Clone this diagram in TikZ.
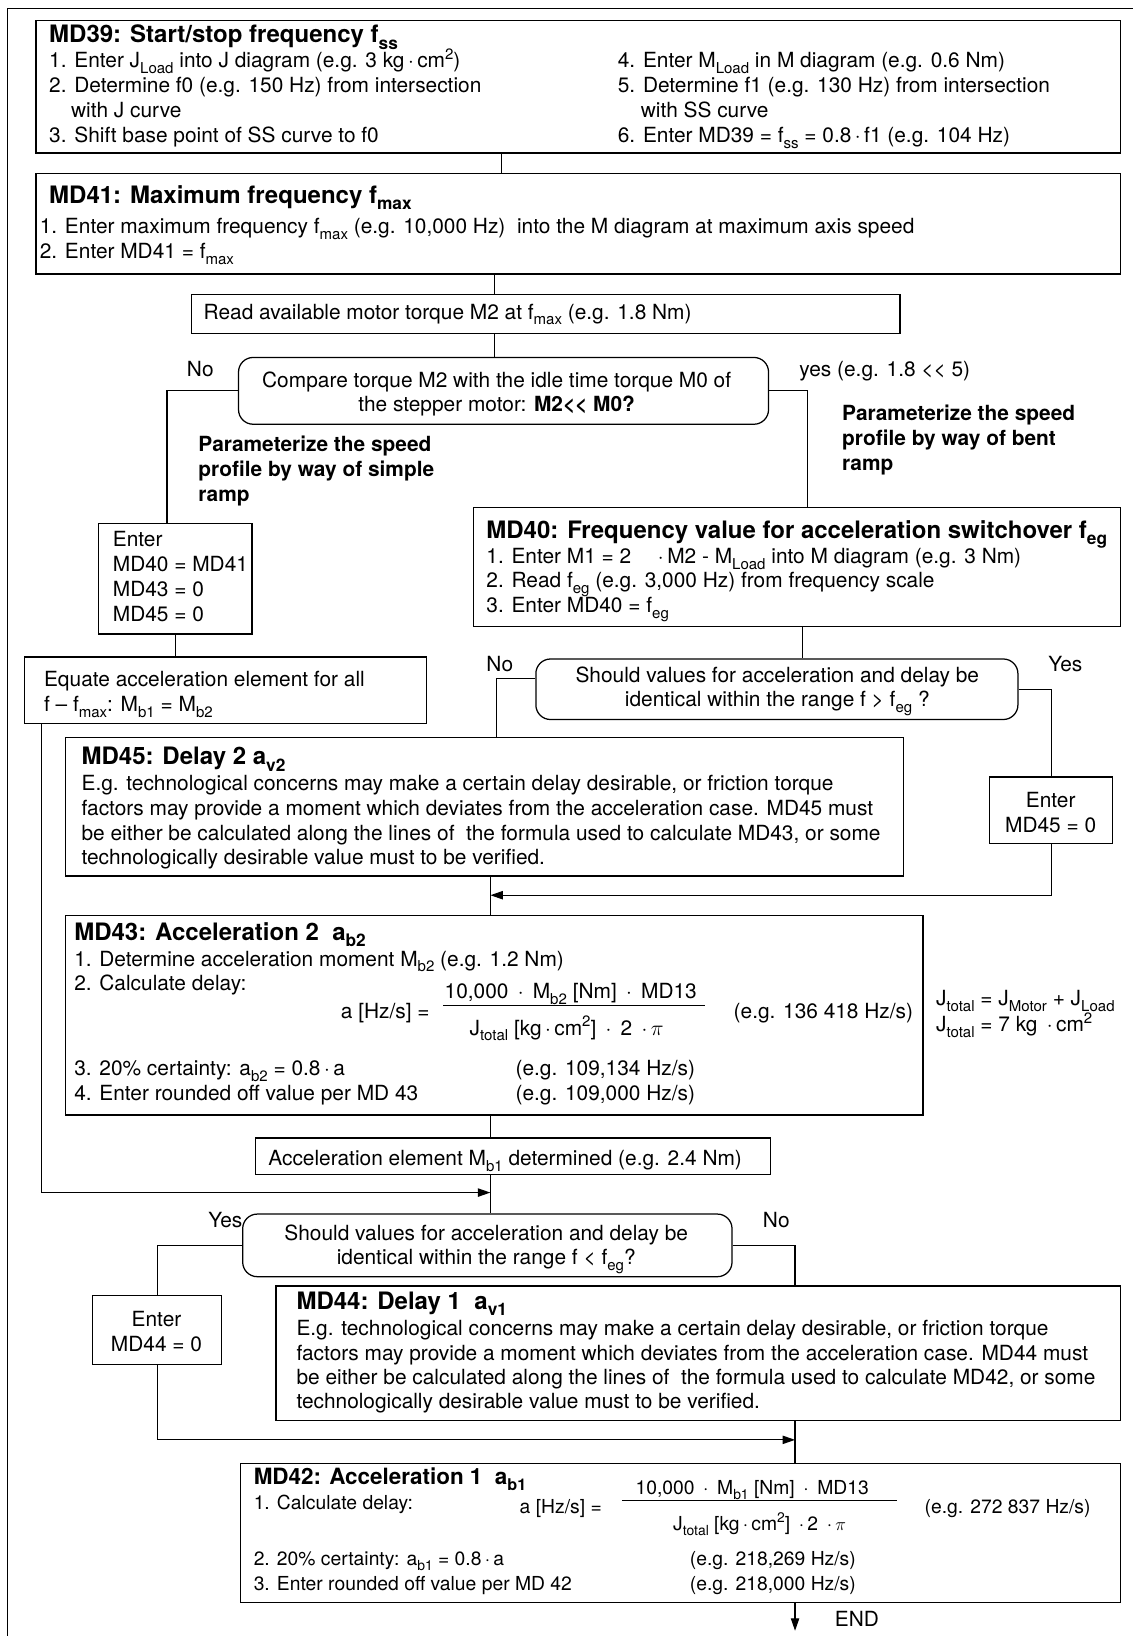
\documentclass[tikz,border=0pt]{standalone}
\usepackage{fontspec}
\setmainfont{TeX Gyre Heros}
\usepackage{graphicx}
\usetikzlibrary{arrows.meta,calc}
\newcommand\lo[1]{\raisebox{-0.27em}{\scalebox{0.72}{#1}}}
\newcommand\up[1]{\raisebox{0.40em}{\scalebox{0.72}{#1}}}
\newcommand\bodyf{\fontsize{20}{24}\selectfont}
\newcommand\smallbodyf{\fontsize{18.5}{22}\selectfont}
\newcommand\titlef{\fontsize{23}{27}\selectfont\bfseries}
\newcommand\boldf{\fontsize{20}{24}\selectfont\bfseries}
\newcommand\md{\,·\,}
\tikzset{
 box/.style={draw, line width=1.2pt, inner sep=0pt, anchor=north west},
 dec/.style={draw, line width=1.2pt, rounded corners=14pt, inner sep=0pt, anchor=north west},
 tx/.style={anchor=base west, inner sep=0pt, font=\bodyf},
 txs/.style={anchor=base west, inner sep=0pt, font=\smallbodyf},
 tc/.style={anchor=base, inner sep=0pt, font=\bodyf},
 tb/.style={anchor=base west, inner sep=0pt, font=\boldf},
 ti/.style={anchor=base west, inner sep=0pt, font=\titlef},
 ln/.style={line width=1.1pt},
 arr/.style={line width=1.1pt, -{Triangle[length=12pt,width=8pt]}},
}
\begin{document}
\begin{tikzpicture}[x=1pt,y=-1pt]
\useasboundingbox (0,0) rectangle (1085,1568);
\fill[white] (0,0) rectangle (1085,1568);
% outer frame
\draw[line width=1.2pt] (7,1575) -- (7,8) -- (1090,8);

% ---------- boxes ----------
\node[box, minimum width=1039pt, minimum height=127pt] (md39) at (34,19) {};
\node[box, minimum width=1039pt, minimum height=96pt] (md41) at (34,166) {};
\node[box, minimum width=679pt, minimum height=37pt] (rd) at (183,282) {};
\node[dec, minimum width=508pt, minimum height=64pt] (dec1) at (228,342) {};
\node[box, minimum width=147pt, minimum height=106pt] (en1) at (94,501) {};
\node[box, minimum width=620pt, minimum height=114pt] (md40) at (453,486) {};
\node[dec, minimum width=462pt, minimum height=58pt] (dec2) at (513,631) {};
\node[box, minimum width=385pt, minimum height=64pt] (eq) at (23,629) {};
\node[box, minimum width=803pt, minimum height=133pt] (md45) at (62,706) {};
\node[box, minimum width=118pt, minimum height=64pt] (en2) at (948,744) {};
\node[box, minimum width=822pt, minimum height=191pt] (md43) at (62,877) {};
\node[box, minimum width=494pt, minimum height=35pt] (acc) at (244,1090) {};
\node[dec, minimum width=469pt, minimum height=60pt] (dec3) at (232,1163) {};
\node[box, minimum width=124pt, minimum height=66pt] (en3) at (88,1241) {};
\node[box, minimum width=809pt, minimum height=129pt] (md44) at (264,1232) {};
\node[box, minimum width=843pt, minimum height=133pt] (md42) at (230,1402) {};

\coordinate (j1) at (470,1143);
\coordinate (j2) at (470,858);
\coordinate (j3) at (762,1380);
\coordinate (endpt) at (762,1563);

% ---------- connectors ----------
\draw[ln] (481,0 |- md39.south) -- (481,0 |- md41.north);
\draw[ln] (474,0 |- md41.south) -- (474,0 |- rd.north);
\draw[ln] (474,0 |- rd.south) -- (474,0 |- dec1.north);
\draw[ln] (dec1.west) -| (en1.north -| 160,0);
\draw[ln] (dec1.east) -| (md40.north -| 774,0);
\draw[ln] (en1.south) -- (en1.south |- eq.north);
\draw[ln] (769,0 |- md40.south) -- (769,0 |- dec2.north);
\draw[ln] ($(dec2.north west)!0.33!(dec2.south west)$) -| (md45.north -| 476,0);
\draw[ln] (dec2.east) -| (en2.north);
\draw[arr] (en2.south) |- (j2);
\draw[ln] (470,0 |- md45.south) -- (470,0 |- md43.north);
\draw[ln] (470,0 |- md43.south) -- (470,0 |- acc.north);
\draw[ln] (470,0 |- acc.south) -- (470,0 |- dec3.north);
\draw[arr] (eq.south -| 40,0) |- (j1);
\draw[ln] (dec3.west) -| (en3.north);
\draw[ln] (dec3.east) -| (md44.north -| 762,0);
\draw[arr] (en3.south) |- (j3);
\draw[ln] (762,0 |- md44.south) -- (762,0 |- md42.north);
\draw[arr] (762,0 |- md42.south) -- (endpt);

% ---------- MD39 ----------
\node[ti] (t39) at (47,41) {MD39: Start/stop frequency f\lo{ss}};
\node[tx] (a1) at (47,65) {1. Enter J\lo{Load} into J diagram (e.g. 3 kg\md cm\up{2})};
\node[tx] (a2) at (47,89) {2. Determine f0 (e.g. 150 Hz) from intersection};
\node[tx] (a3) at (68,113) {with J curve};
\node[tx] (a4) at (47,137) {3. Shift base point of SS curve to f0};
\node[tx] (a5) at (592,65) {4. Enter M\lo{Load} in M diagram (e.g. 0.6 Nm)};
\node[tx] (a6) at (592,89) {5. Determine f1 (e.g. 130 Hz) from intersection};
\node[tx] (a7) at (614,113) {with SS curve};
\node[tx] (a8) at (592,137) {6. Enter MD39 = f\lo{ss} = 0.8\md f1 (e.g. 104 Hz)};

% ---------- MD41 ----------
\node[ti] (t41) at (47,195) {MD41: Maximum frequency f\lo{max}};
\node[tx] (b1) at (38,224) {1. Enter maximum frequency f\lo{max} (e.g. 10,000 Hz)\ \ into the M diagram at maximum axis speed};
\node[tx] (b2) at (38,248) {2. Enter MD41 = f\lo{max}};

\node[tx] (rdt) at (195,306) {Read available motor torque M2 at f\lo{max} (e.g. 1.8 Nm)};

% ---------- decision 1 ----------
\node[tc] (d1a) at (476,371) {Compare torque M2 with the idle time torque M0 of};
\node[tc] (d1b) at (476,394) {the stepper motor: \textbf{M2<{}< M0?}};
\node[tc] (no1) at (192,361) {No};
\node[tx] (yes1) at (766,361) {yes (e.g. 1.8 <{}< 5)};
\node[tb] (p1a) at (190,433) {Parameterize the speed};
\node[tb] (p1b) at (190,457) {profile by way of simple};
\node[tb] (p1c) at (190,481) {ramp};
\node[tb] (p2a) at (807,403) {Parameterize the speed};
\node[tb] (p2b) at (807,427) {profile by way of bent};
\node[tb] (p2c) at (807,451) {ramp};

% ---------- Enter 1 ----------
\node[tx] (e1a) at (108,524) {Enter};
\node[tx] (e1b) at (108,548) {MD40 = MD41};
\node[tx] (e1c) at (108,572) {MD43 = 0};
\node[tx] (e1d) at (108,596) {MD45 = 0};

% ---------- MD40 ----------
\node[ti] (t40) at (466,516) {MD40: Frequency value for acceleration switchover f\lo{eg}};
\node[tx] (c1) at (466,540) {1. Enter M1 = 2\ \ \ \ \md M2 - M\lo{Load} into M diagram (e.g. 3 Nm)};
\node[tx] (c2) at (466,563) {2. Read f\lo{eg} (e.g. 3,000 Hz) from frequency scale};
\node[tx] (c3) at (466,587) {3. Enter MD40 = f\lo{eg}};

% ---------- decision 2 ----------
\node[tc] (d2a) at (745,654) {Should values for acceleration and delay be};
\node[tc] (d2b) at (745,677) {identical within the range f > f\lo{eg} ?};
\node[tc] (no2) at (479,644) {No};
\node[tc] (yes2) at (1021,644) {Yes};

% ---------- Equate ----------
\node[tx] (q1) at (42,658) {Equate acceleration element for all};
\node[tx] (q2) at (42,682) {f – f\lo{max}: M\lo{b1} = M\lo{b2}};

% ---------- MD45 ----------
\node[ti] (t45) at (78,733) {MD45: Delay 2 a\lo{v2}};
\node[tx] (f1) at (78,758) {E.g. technological concerns may make a certain delay desirable, or friction torque};
\node[tx] (f2) at (78,782) {factors may provide a moment which deviates from the acceleration case. MD45 must};
\node[tx] (f3) at (78,806) {be either be calculated along the lines of\ \ the formula used to calculate MD43, or some};
\node[tx] (f4) at (78,829) {technologically desirable value must to be verified.};

\node[tc] (e2a) at (1007,774) {Enter};
\node[tc] (e2b) at (1007,798) {MD45 = 0};

% ---------- MD43 ----------
\node[ti] (t43) at (71,901) {MD43: Acceleration 2\ \ a\lo{b2}};
\node[tx] (g1) at (71,926) {1. Determine acceleration moment M\lo{b2} (e.g. 1.2 Nm)};
\node[tx] (g2) at (71,949) {2. Calculate delay:};
\node[anchor=base east, inner sep=0pt, font=\bodyf] (g3) at (412,976) {a [Hz/s] =};
\node[tx] (g4) at (426,957) {10,000\ \md\ M\lo{b2} [Nm]\ \md\ MD13};
\node[tx] (g5) at (450,992) {J\lo{total} [kg\md cm\up{2}]\ \md\ 2\ \md$\pi$};
\draw[ln] (g3.east) ++(13,-7) coordinate (fr1) (fr1) -- ++(251,0) coordinate (fr2);
\node[tx] (g6) at (703,976) {(e.g. 136 418 Hz/s)};
\node[tx] (g7) at (71,1031) {3. 20\% certainty: a\lo{b2} = 0.8\md a};
\node[tx] (g8) at (494,1031) {(e.g. 109,134 Hz/s)};
\node[tx] (g9) at (71,1055) {4. Enter rounded off value per MD 43};
\node[tx] (g10) at (494,1055) {(e.g. 109,000 Hz/s)};
\node[tx] (jt1) at (897,964) {J\lo{total} = J\lo{Motor} + J\lo{Load}};
\node[tx] (jt2) at (897,989) {J\lo{total} = 7 kg\ \md cm\up{2}};

\node[tx] (acct) at (257,1117) {Acceleration element M\lo{b1} determined (e.g. 2.4 Nm)};

% ---------- decision 3 ----------
\node[tc] (d3a) at (466,1189) {Should values for acceleration and delay be};
\node[tc] (d3b) at (466,1212) {identical within the range f < f\lo{eg}?};
\node[tc] (yes3) at (216,1176) {Yes};
\node[tc] (no3) at (744,1176) {No};

\node[tc] (e3a) at (150,1271) {Enter};
\node[tc] (e3b) at (150,1295) {MD44 = 0};

% ---------- MD44 ----------
\node[ti] (t44) at (284,1255) {MD44: Delay 1\ \ a\lo{v1}};
\node[tx] (h1) at (284,1280) {E.g. technological concerns may make a certain delay desirable, or friction torque};
\node[tx] (h2) at (284,1304) {factors may provide a moment which deviates from the acceleration case. MD44 must};
\node[tx] (h3) at (284,1327) {be either be calculated along the lines of\ \ the formula used to calculate MD42, or some};
\node[tx] (h4) at (284,1350) {technologically desirable value must to be verified.};

% ---------- MD42 ----------
\node[anchor=base west, inner sep=0pt, font=\fontsize{21.5}{26}\selectfont\bfseries] (t42) at (243,1423) {MD42: Acceleration 1\ \ a\lo{b1}};
\node[txs] (k1) at (243,1447) {1. Calculate delay:};
\node[anchor=base east, inner sep=0pt, font=\smallbodyf] (k2) at (577,1451) {a [Hz/s] =};
\node[txs] (k3) at (609,1432) {10,000\ \md\ M\lo{b1} [Nm]\ \md\ MD13};
\node[txs] (k4) at (645,1467) {J\lo{total} [kg\md cm\up{2}]\ \md 2\ \md$\pi$};
\draw[ln] (k2.east) ++(19,-8) coordinate (fr3) (fr3) -- ++(264,0) coordinate (fr4);
\node[txs] (k5) at (886,1451) {(e.g. 272 837 Hz/s)};
\node[txs] (k6) at (243,1500) {2. 20\% certainty: a\lo{b1} = 0.8\md a};
\node[txs] (k7) at (661,1500) {(e.g. 218,269 Hz/s)};
\node[txs] (k8) at (243,1524) {3. Enter rounded off value per MD 42};
\node[txs] (k9) at (661,1524) {(e.g. 218,000 Hz/s)};

\node[tx] (endt) at (800,1559) {END};
\end{tikzpicture}
\end{document}
